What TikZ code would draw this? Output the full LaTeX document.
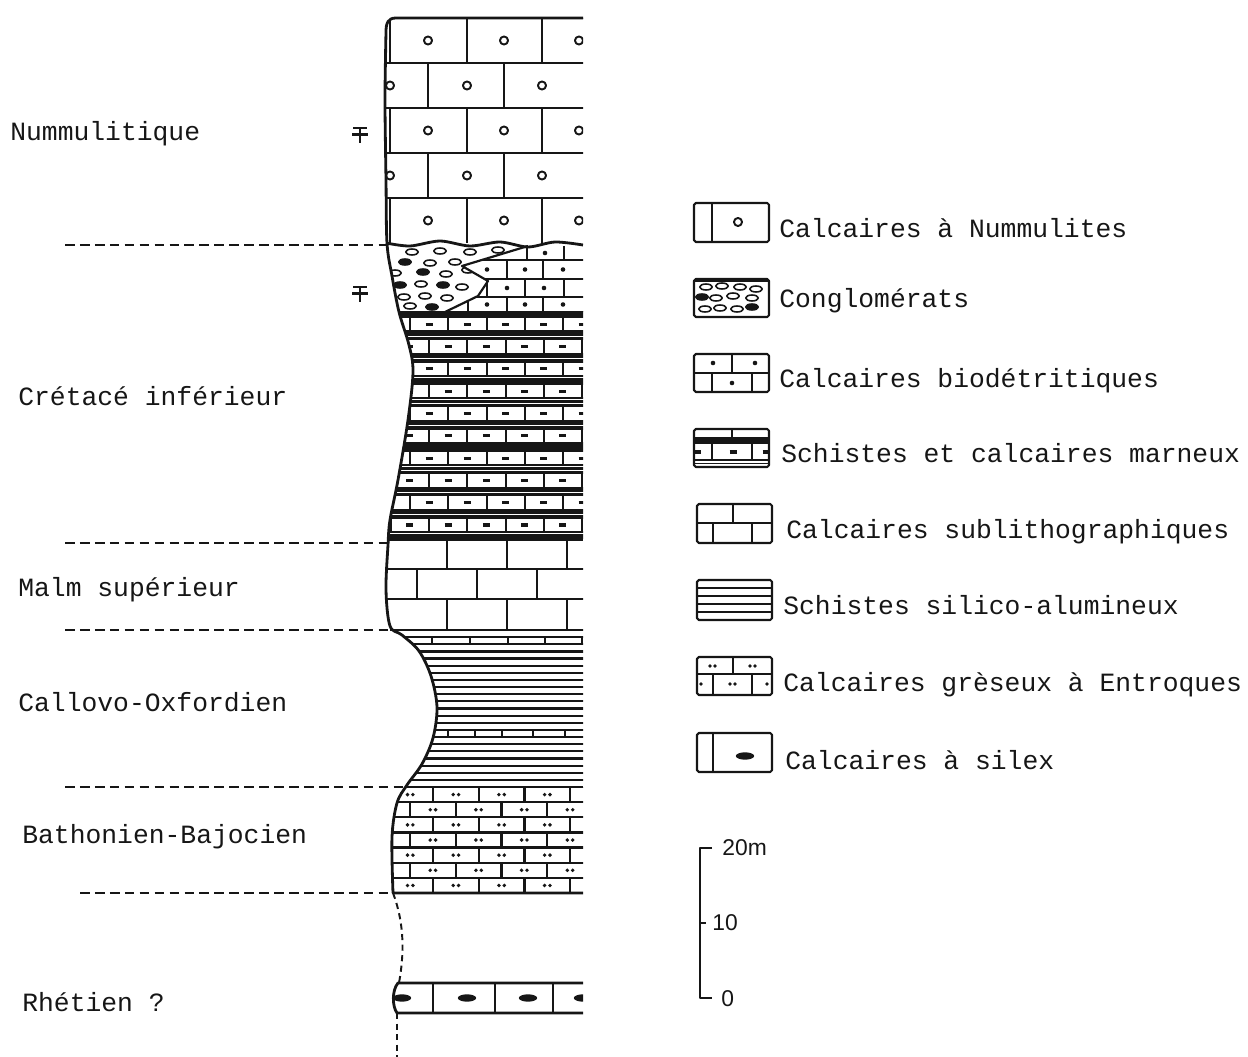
\documentclass[tikz,border=0pt]{standalone}
\usepackage{fontspec}
\setmainfont{Liberation Serif}
\newfontfamily\typew{Liberation Mono}
\newfontfamily\scalebarfont{Liberation Sans}
\usepackage{tikz}
\usetikzlibrary{calc}
\definecolor{ink}{RGB}{22,22,22}

% left edge of the column (open on the right side)
\newcommand{\leftedge}{(583,18) -- (396,18) .. controls (388,18) and (386,23) .. (386,32)
  -- plot[smooth, tension=0.55] coordinates {(386,32) (385,100) (386,180) (387,243) (392,276)
  (399,312) (409,345) (413,372) (408,420) (398,480) (390,520) (388,545) (386,590) (390,626)
  (402,635) (419,651) (431,676) (437,707) (433,738) (422,764) (407,785) (397,803) (392,837)
  (393,893)} -- (583,893)}

\begin{document}
\begin{tikzpicture}[x=0.02cm, y=-0.02cm, line join=round,
  brk/.style={draw=ink, line width=1.25pt},
  bound/.style={draw=ink, line width=1.6pt},
  thinl/.style={draw=ink, line width=0.9pt},
  sep/.style={draw=ink, line width=1.1pt, dash pattern=on 5.5pt off 3pt},
  contact/.style={draw=ink, line width=1.1pt, dash pattern=on 3.5pt off 2.5pt},
  unitlabel/.style={anchor=base west, inner sep=0pt, text=ink, font=\typew\fontsize{15}{18}\selectfont},
  legbox/.style={draw=ink, line width=1.2pt, rounded corners=1pt},
  scalelabel/.style={anchor=west, inner sep=0pt, text=ink, font=\scalebarfont\fontsize{13}{15}\selectfont},
  pebble/.style={draw=ink, line width=0.9pt},
]
  \useasboundingbox (0,0) rectangle (1248,1057);

  % Nummulitique
  \begin{scope}
    \clip \leftedge -- cycle;
    \clip (300,18) rectangle (583,243);
    \foreach \y in {18,108,198} {
      \draw[brk] (380,\y) -- (590,\y);
      \foreach \x in {390,467,542} \draw[brk] (\x,\y) -- (\x,\y+45);
      \foreach \x in {428,504,579} \draw[ink, line width=1.1pt] (\x,\y+22.5) circle (2.3pt);
    }
    \foreach \y in {63,153} {
      \draw[brk] (380,\y) -- (590,\y);
      \foreach \x in {428,504} \draw[brk] (\x,\y) -- (\x,\y+45);
      \foreach \x in {390,467,542} \draw[ink, line width=1.1pt] (\x,\y+22.5) circle (2.3pt);
    }
  \end{scope}

  % Conglomerats and calcaires biodetritiques
  \begin{scope}
    \clip \leftedge -- cycle;
    \clip (300,243) rectangle (583,312);
    \begin{scope}
      \clip (300,240) -- (528,246) -- (462,266) -- (488,281) -- (478,296) -- (445,312) -- (300,312) -- cycle;
      \foreach \px/\py/\pf in {412/252/white, 440/251/white, 470/252/white, 498/250/white,
          405/262/ink, 430/263/white, 455/262/white, 395/273/white, 423/272/ink, 446/274/white,
          468/270/white, 400/285/ink, 421/284/white, 443/285/ink, 462/287/white,
          404/297/white, 425/296/white, 447/298/white, 410/306/white, 432/307/ink}
        \draw[pebble, fill=\pf] (\px,\py) ellipse [x radius=3.6pt, y radius=1.7pt];
    \end{scope}
    \begin{scope}
      \clip (528,246) -- (462,266) -- (488,281) -- (478,296) -- (445,312) -- (600,312) -- (600,240) -- cycle;
      \foreach \ya/\yb/\vs/\ds in {246/260/{527,564}/{545}, 260/279/{507,543}/{487,525,563},
          279/297/{487,525,564}/{507,544}, 297/312/{468,507,543}/{487,525,563}} {
        \draw[brk] (380,\yb) -- (590,\yb);
        \foreach \x in \vs \draw[brk] (\x,\ya) -- (\x,\yb);
        \foreach \x in \ds \fill[ink] (\x,{(\ya+\yb)/2}) circle (1.3pt);
      }
    \end{scope}
    \draw[brk] (528,246) -- (462,266) -- (488,281) -- (478,296) -- (445,312);
  \end{scope}
  \draw[bound] plot[smooth] coordinates {(386,243) (410,246) (440,241) (470,246) (500,242) (528,247) (555,242) (583,245)};

  % Schistes et calcaires marneux
  \begin{scope}
    \clip \leftedge -- cycle;
    \clip (300,312) rectangle (583,540);
    \draw[ink, line width=2.4pt] (380,313.5) -- (590,313.5);
    \foreach \k in {0,...,9} {
      \pgfmathsetmacro\yt{317+22.3*\k}
      \pgfmathsetmacro\xo{ifthenelse(mod(\k,2)==0,410,429)}
      \draw[brk] (380,\yt) -- (590,\yt);
      \draw[brk] (380,\yt+14.5) -- (590,\yt+14.5);
      \draw[ink, line width=1.8pt] (380,\yt+17.5) -- (590,\yt+17.5);
      \draw[thinl] (380,\yt+20.5) -- (590,\yt+20.5);
      \foreach \j in {-1,...,5} {
        \draw[brk] (\xo+38.3*\j,\yt) -- (\xo+38.3*\j,\yt+14.5);
        \draw[ink, line width=1.8pt] (\xo+38.3*\j+15.5,\yt+7.3) -- (\xo+38.3*\j+22.5,\yt+7.3);
      }
    }
  \end{scope}

  % Malm superieur
  \begin{scope}
    \clip \leftedge -- cycle;
    \clip (300,540) rectangle (583,630);
    \foreach \ya/\yb/\vs in {540/569/{447,507,567}, 569/599/{417,477,537}, 599/630/{447,507,567}} {
      \draw[brk] (380,\yb) -- (590,\yb);
      \foreach \x in \vs \draw[brk] (\x,\ya) -- (\x,\yb);
    }
  \end{scope}
  \draw[bound] (388,540) -- (583,540);

  % Callovo-Oxfordien
  \begin{scope}
    \clip \leftedge -- cycle;
    \clip (300,630) rectangle (583,787);
    \foreach \i in {1,...,21} \draw[brk] (380,630+7.14*\i) -- (590,630+7.14*\i);
    \foreach \x in {432,470,508,545,582} \draw[brk] (\x,637.1) -- (\x,644.3);
    \foreach \x in {448,475,502,533,565} \draw[brk] (\x,730) -- (\x,737.1);
  \end{scope}
  \draw[bound] (390,630) -- (583,630);

  % Bathonien-Bajocien
  \begin{scope}
    \clip \leftedge -- cycle;
    \clip (300,787) rectangle (583,893);
    \foreach \r in {0,...,6} {
      \pgfmathsetmacro\yt{787+15.14*\r}
      \pgfmathsetmacro\xo{ifthenelse(mod(\r,2)==0,433,410)}
      \draw[brk] (380,\yt) -- (590,\yt);
      \foreach \j in {-1,...,4} {
        \draw[brk] (\xo+45.7*\j,\yt) -- (\xo+45.7*\j,\yt+15.14);
        \fill[ink] (\xo+45.7*\j+20.2,\yt+7.6) circle (1.1pt);
        \fill[ink] (\xo+45.7*\j+25.6,\yt+7.6) circle (1.1pt);
      }
    }
  \end{scope}
  \draw[bound] (405,787) -- (583,787);

  % column outline
  \draw[bound] \leftedge;

  % Rhetien
  \begin{scope}
    \clip (583,983) -- (398,983) .. controls (392,990) and (392,1006) .. (397,1013) -- (583,1013) -- cycle;
    \foreach \x in {433,495,553} \draw[brk] (\x,983) -- (\x,1013);
    \foreach \x in {402,467,528,583} \fill[ink] (\x,998) ellipse [x radius=5.2pt, y radius=2.1pt];
  \end{scope}
  \draw[bound] (583,983) -- (398,983) .. controls (392,990) and (392,1006) .. (397,1013) -- (583,1013);
  \draw[contact] (393,893) .. controls (405,925) and (404,955) .. (399,983);
  \draw[contact] (397,1013) -- (397,1057);

  % unit limits
  \draw[sep] (65,245) -- (387,245);
  \draw[sep] (65,543) -- (388,543);
  \draw[sep] (65,630) -- (390,630);
  \draw[sep] (65,787) -- (405,787);
  \draw[sep] (80,893) -- (393,893);

  % fossil marks
  \foreach \fy in {128,287} {
    \draw[ink, line width=1.4pt] (353,\fy) -- (367,\fy);
    \draw[ink, line width=1.4pt] (352,\fy+6.5) -- (368,\fy+6.5);
    \draw[ink, line width=1.4pt] (360,\fy) -- (360,\fy+15);
  }

  % unit names
  \node[unitlabel] (numm) at (10,141) {Nummulitique};
  \node[unitlabel] (cret) at (18,406) {Crétacé inférieur};
  \node[unitlabel] (malm) at (18,596) {Malm supérieur};
  \node[unitlabel] (call) at (18,711) {Callovo-Oxfordien};
  \node[unitlabel] (bath) at (22,843) {Bathonien-Bajocien};
  \node[unitlabel] (rhet) at (22,1011) {Rhétien ?};

  % legend symbols
  \draw[legbox] (694,203) rectangle (769,242);
  \draw[brk] (712,203) -- (712,242);
  \draw[ink, line width=1.1pt] (738,222) circle (2.3pt);

  \draw[legbox] (694,279) rectangle (769,317);
  \draw[ink, line width=2pt] (695,280) -- (768,280);
  \foreach \px/\py/\pf in {706/287/white, 722/286/white, 740/287/white, 756/289/white,
      702/297/ink, 716/298/white, 733/296/white, 752/298/white,
      705/309/white, 720/308/white, 737/309/white, 752/307/ink}
    \draw[pebble, fill=\pf] (\px,\py) ellipse [x radius=3.6pt, y radius=1.7pt];

  \draw[legbox] (694,354) rectangle (769,392);
  \draw[brk] (694,373) -- (769,373) (732,354) -- (732,373) (712,373) -- (712,392) (752,373) -- (752,392);
  \foreach \px/\py in {713/363, 755/363, 732/383} \fill[ink] (\px,\py) circle (1.3pt);

  \draw[legbox] (694,429) rectangle (769,467);
  \fill[ink] (694,437) rectangle (769,444);
  \draw[brk] (732,429) -- (732,437) (712,444) -- (712,460) (752,444) -- (752,460) (694,460) -- (769,460);
  \draw[thinl] (694,463.5) -- (769,463.5);
  \foreach \px in {697,733,766} \draw[ink, line width=1.8pt] (\px-3.5,452) -- (\px+3.5,452);

  \draw[legbox] (697,504) rectangle (772,543);
  \draw[brk] (697,523) -- (772,523) (733,504) -- (733,523) (713,523) -- (713,543) (752,523) -- (752,543);

  \draw[legbox] (697,580) rectangle (772,620);
  \foreach \ly in {588,596,604,612} \draw[brk] (697,\ly) -- (772,\ly);

  \draw[legbox] (697,657) rectangle (772,695);
  \draw[brk] (697,674) -- (772,674) (733,657) -- (733,674) (713,674) -- (713,695) (752,674) -- (752,695);
  \foreach \px/\py in {710/666, 715/666, 750/666, 755/666, 701/684, 730/684, 735/684, 767/684}
    \fill[ink] (\px,\py) circle (1.1pt);

  \draw[legbox] (697,733) rectangle (772,772);
  \draw[brk] (713,733) -- (713,772);
  \fill[ink] (745,756) ellipse [x radius=5.2pt, y radius=2.1pt];

  % legend texts
  \node[unitlabel] (legnumm) at (779,238) {Calcaires à Nummulites};
  \node[unitlabel] (legcong) at (779,308) {Conglomérats};
  \node[unitlabel] (legbiod) at (779,388) {Calcaires biodétritiques};
  \node[unitlabel] (legmarn) at (781,463) {Schistes et calcaires marneux};
  \node[unitlabel] (legsubl) at (786,539) {Calcaires sublithographiques};
  \node[unitlabel] (legsili) at (783,614) {Schistes silico-alumineux};
  \node[unitlabel] (leggres) at (783,691) {Calcaires grèseux à Entroques};
  \node[unitlabel] (legsile) at (785,769) {Calcaires à silex};

  % scale
  \draw[ink, line width=1.4pt] (712,848) -- (700,848) -- (700,998) -- (712,998);
  \draw[ink, line width=1.4pt] (700,923) -- (706,923);
  \node[scalelabel] (sc20) at (722,848) {20m};
  \node[scalelabel] (sc10) at (712,923) {10};
  \node[scalelabel] (sc0) at (721,999) {0};
\end{tikzpicture}
\end{document}
